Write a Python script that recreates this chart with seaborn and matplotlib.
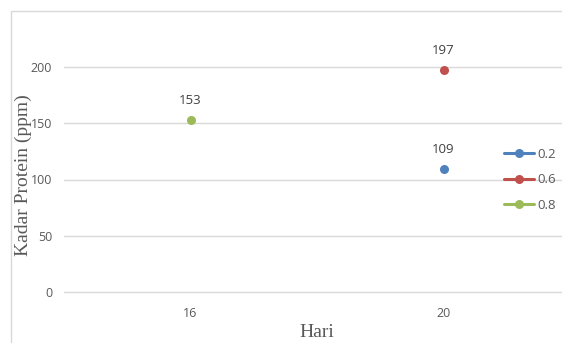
import numpy as np
import pandas as pd
import matplotlib
matplotlib.use("Agg")
import matplotlib.pyplot as plt
import seaborn as sns
from matplotlib.patches import Rectangle

# data
days = ["16", "20"]
series_names = ["0.2", "0.6", "0.8"]
vals_02 = [np.nan, 109]
vals_06 = [np.nan, 197]
vals_08 = [153, np.nan]
colors = ["#4F81BD", "#C0504D", "#9BBB59"]

df = pd.DataFrame({
    "Hari": days * 3,
    "konsentrasi": [s for s in series_names for _ in days],
    "protein": vals_02 + vals_06 + vals_08,
})

sns.set_style("white")
plt.rcParams["font.family"] = ["Open Sans", "DejaVu Sans"]

fig = plt.figure(figsize=(5.62, 3.43), dpi=100)
ax = fig.add_axes([64 / 562, 1 - 292 / 343, 506 / 562, 270 / 343])

# chart area border (light grey, right/bottom cropped off in the reference)
fig.patches.append(Rectangle((11 / 562, -0.1), 1.2, 1 - 10.5 / 343 + 0.1,
                             transform=fig.transFigure, fill=False,
                             edgecolor="#D9D9D9", linewidth=1.0, zorder=0))

sns.lineplot(data=df, x="Hari", y="protein", hue="konsentrasi",
             palette=colors, marker="o", markersize=6.5, markeredgewidth=0,
             linewidth=2.2, ax=ax, sort=False)

for name, vals, c in zip(series_names, [vals_02, vals_06, vals_08], colors):
    for i, v in enumerate(vals):
        if not np.isnan(v):
            ax.annotate(f"{v:.0f}", (i, v), xytext=(0, 14), textcoords="offset points",
                        ha="center", va="center", fontsize=9.5, color="#404040")

ax.set_xlim(-0.5, 1.5)
ax.set_ylim(0, 240)
ax.set_yticks([0, 50, 100, 150, 200])
ax.yaxis.grid(True, color="#D9D9D9", linewidth=1)
for gl in ax.get_ygridlines():
    gl.set_clip_on(False)
ax.set_axisbelow(True)
for s in ax.spines.values():
    s.set_visible(False)
ax.tick_params(axis="both", length=0, labelsize=9, labelcolor="#595959")
ax.tick_params(axis="y", pad=8.5)
ax.tick_params(axis="x", pad=11)

ax.set_xlabel("Hari", family=["Liberation Serif", "DejaVu Serif"], fontsize=14,
              color="#595959", labelpad=3)
ax.set_ylabel("Kadar Protein (ppm)", family=["Liberation Serif", "DejaVu Serif"],
              fontsize=14, color="#595959")
ax.yaxis.set_label_coords((32 - 64) / 506, (292 - 175) / 270)

handles, labels = ax.get_legend_handles_labels()
ax.legend(handles, labels, loc="center left", bbox_to_anchor=(504 / 562, 1 - 180 / 343),
          bbox_transform=fig.transFigure, frameon=False, fontsize=9.5,
          labelcolor="#595959", handlelength=2.3, handletextpad=0.2,
          labelspacing=0.95, borderpad=0, borderaxespad=0)

fig.savefig("out.png", dpi=100)
